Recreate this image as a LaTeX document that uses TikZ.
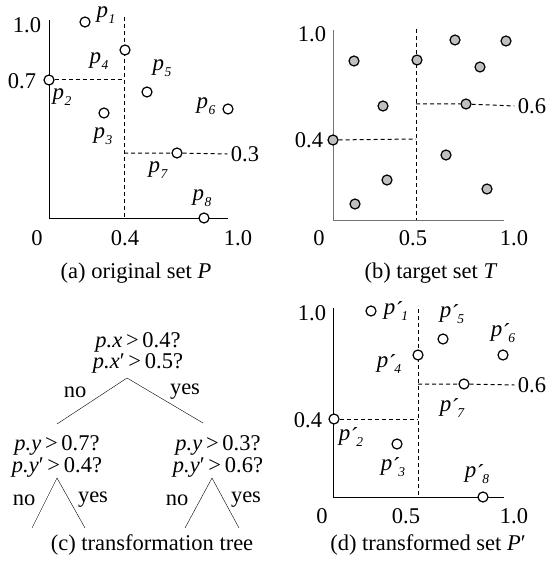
\documentclass[tikz,border=0pt]{standalone}
\usepackage{fontspec}
\setmainfont{Liberation Serif}
\usepackage{tikz}
\usetikzlibrary{backgrounds}

\tikzset{
  pt/.style={circle,draw=black,fill=white,line width=1.2pt,minimum size=10pt,inner sep=0pt},
  tgt/.style={pt,fill=black!25},
  cut/.style={line width=1pt,dash pattern=on 4pt off 3pt},
  axis/.style={line width=1pt},
}
\newcommand{\sub}[1]{\raisebox{-0.24em}{\fontsize{13.5}{14}\selectfont\itshape #1}}
\newcommand{\pl}[1]{{\fontsize{23}{25}\selectfont\textit{p}\kern0.02em\sub{#1}}}
\newcommand{\ppl}[1]{{\fontsize{23}{25}\selectfont\textit{p}\kern0.03em\rlap{\raisebox{-0.12em}{´}}\kern0.24em\sub{#1}}}

\begin{document}
\begin{tikzpicture}[x=1pt,y=-1pt,font=\fontsize{22.5}{25}\selectfont]
\useasboundingbox (0,0) rectangle (552,567);
% panel (a): original set P
\draw[axis] (49,20) -- (49,218) -- (228,218);
\node (a10) at (27,25) {1.0};
\node (a07) at (22,81) {0.7};
\node (a03) at (245,154) {0.3};
\node (ax0) at (37,238) {0};
\node (ax4) at (125,238) {0.4};
\node (ax1) at (238,238) {1.0};
\node[pt] (a1) at (85,22) {};
\node[pt] (a2) at (49,80) {};
\node[pt] (a3) at (104,113) {};
\node[pt] (a4) at (125,50) {};
\node[pt] (a5) at (147,92) {};
\node[pt] (a6) at (228,109) {};
\node[pt] (a7) at (177,153) {};
\node[pt] (a8) at (204,218) {};
\begin{scope}[on background layer]
\draw[cut] (124,17) -- (124,218);
\draw[cut] (a2) -- (124,80);
\draw[cut] (124,153) -- (a7) -- (a03.west);
\end{scope}
\node at (106,15) {\pl1};
\node at (62,97) {\pl2};
\node at (103,136) {\pl3};
\node at (99,61) {\pl4};
\node at (162,68) {\pl5};
\node at (206,106) {\pl6};
\node at (158,170) {\pl7};
\node at (202,198) {\pl8};
\node (capa) at (136,273) {(a) original set \textit{P}};
% panel (b): target set T
\draw[axis,black!55] (333,30) -- (333,220) -- (504,220);
\node (b10) at (312,34) {1.0};
\node (b04) at (309,140) {0.4};
\node (b06) at (532,106) {0.6};
\node (bx0) at (319,238) {0};
\node (bx5) at (413,238) {0.5};
\node (bx1) at (514,238) {1.0};
\foreach \x/\y [count=\i] in {354/61,417/60,455/40,506/41,480/67,383/106,
  466/104,333/140,446/155,387/180,487/189,355/204}
  \node[tgt] (t\i) at (\x,\y) {};
\begin{scope}[on background layer]
\draw[cut] (416,29) -- (416,220);
\draw[cut] (t8) -- (416,139);
\draw[cut] (416,104) -- (t7) -- (b06.west);
\end{scope}
\node (capb) at (431,273) {(b) target set \textit{T}};
% panel (c): transformation tree
\node (r1) at (138,342) {\textit{p.x}\,>\,0.4?};
\node (r2) at (138,363) {\textit{p.x}′\,>\,0.5?};
\coordinate (rt) at (127,378);
\coordinate (rl) at (57,424);
\coordinate (rr) at (203,423);
\draw (rt) -- (rl);
\draw (rt) -- (rr);
\node at (75,392) {no};
\node at (185,392) {yes};
\node (l1) at (57,445) {\textit{p.y}\,>\,0.7?};
\node (l2) at (57,467) {\textit{p.y}′\,>\,0.4?};
\node (m1) at (218,445) {\textit{p.y}\,>\,0.3?};
\node (m2) at (218,467) {\textit{p.y}′\,>\,0.6?};
\coordinate (lt) at (57,478);
\coordinate (ml) at (212,478);
\draw (32,528) -- (lt) -- (85,528);
\draw (185,528) -- (ml) -- (239,528);
\node at (24,500) {no};
\node at (93,500) {yes};
\node at (177,500) {no};
\node at (246,500) {yes};
\node (capc) at (152,545) {(c) transformation tree};
% panel (d): transformed set P'
\draw[axis] (333,308) -- (333,497) -- (504,497);
\node (d10) at (312,313) {1.0};
\node (d04) at (308,420) {0.4};
\node (d06) at (532,385) {0.6};
\node (dx0) at (322,516) {0};
\node (dx5) at (406,516) {0.5};
\node (dx1) at (514,516) {1.0};
\node[pt] (d1) at (371,311) {};
\node[pt] (d2) at (334,419) {};
\node[pt] (d3) at (397,444) {};
\node[pt] (d4) at (418,355) {};
\node[pt] (d5) at (443,339) {};
\node[pt] (d6) at (503,355) {};
\node[pt] (d7) at (464,384) {};
\node[pt] (d8) at (483,497) {};
\begin{scope}[on background layer]
\draw[cut] (418,309) -- (418,497);
\draw[cut] (d2) -- (418,419);
\draw[cut] (418,384) -- (d7) -- (d06.west);
\end{scope}
\node at (396,311) {\ppl1};
\node at (351,437) {\ppl2};
\node at (393,467) {\ppl3};
\node at (389,364) {\ppl4};
\node at (452,314) {\ppl5};
\node at (503,333) {\ppl6};
\node at (452,408) {\ppl7};
\node at (477,474) {\ppl8};
\node (capd) at (428,545) {(d) transformed set \textit{P}′};
\end{tikzpicture}
\end{document}
